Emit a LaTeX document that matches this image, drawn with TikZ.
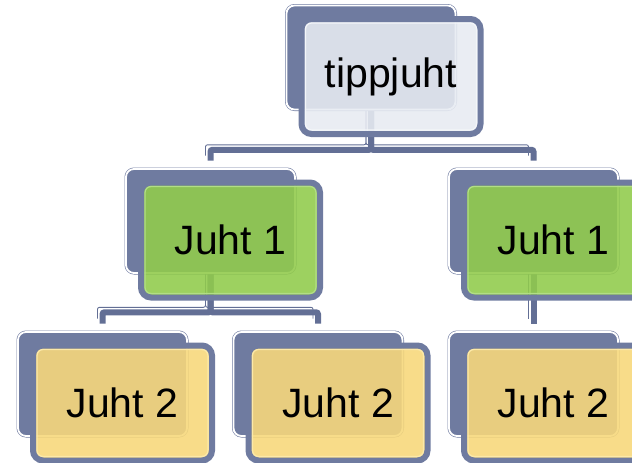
\documentclass[tikz,border=0pt]{standalone}
\usepackage{fontspec}
\setmainfont{Liberation Sans}
\usetikzlibrary{positioning, calc, backgrounds}
\definecolor{slateblue}{HTML}{6F7BA0}
\definecolor{linkblue}{HTML}{636F95}
\definecolor{topfill}{HTML}{E7EBF2}
\definecolor{topfillline}{HTML}{F4F6F9}
\definecolor{juhtgreen}{HTML}{91CB4C}
\definecolor{juhtgreenline}{HTML}{B2DE86}
\definecolor{juhtyellow}{HTML}{F7D87B}
\definecolor{juhtyellowline}{HTML}{FCE9A8}

\begin{document}
\begin{tikzpicture}[
    x=1pt, y=-1pt,
    backbox/.style={rectangle, draw=slateblue, double=white, double distance=1.8pt,
                    line width=0.6pt, fill=slateblue, rounded corners=8pt,
                    minimum width=169pt, minimum height=104pt},
    card/.style={rectangle, draw=slateblue, line width=6pt, fill=#1,
                 fill opacity=0.89, text opacity=1, rounded corners=10pt,
                 minimum width=179pt, minimum height=115pt, inner sep=0pt,
                 font=\fontsize{41}{48}\selectfont,
                 path picture={\draw[#1line, line width=1.3pt, rounded corners=6pt]
                   ([shift={(4pt,-4pt)}]path picture bounding box.north west) rectangle
                   ([shift={(-4pt,4pt)}]path picture bounding box.south east);}},
    link/.style={draw=linkblue, line width=6pt, rounded corners=2pt,
                 preaction={draw=linkblue, line width=0.9pt,
                            transform canvas={shift={(-5pt,5pt)}}}}
]
\useasboundingbox (0,0) rectangle (632,463);

% Level 0: tippjuht
\node[backbox] (top-b) at (371,57.5) {};
\node[card=topfill] (top) at ($(top-b)+(20,19)$) {tippjuht};

% Level 1: Juht 1
\node[backbox] (l1-b) at (210.5,221) {};
\node[card=juhtgreen] (l1) at ($(l1-b)+(20,19)$) {Juht 1};
\node[backbox] (r1-b) at (533.5,221) {};
\node[card=juhtgreen] (r1) at ($(r1-b)+(20,19)$) {Juht 1};

% Level 2: Juht 2
\node[backbox] (l2a-b) at (102.5,384) {};
\node[card=juhtyellow] (l2a) at ($(l2a-b)+(20,19)$) {Juht 2};
\node[backbox] (l2b-b) at (318,384) {};
\node[card=juhtyellow] (l2b) at ($(l2b-b)+(20,19)$) {Juht 2};
\node[backbox] (r2-b) at (533.5,384) {};
\node[card=juhtyellow] (r2) at ($(r2-b)+(20,19)$) {Juht 2};

% Connectors
\begin{scope}[on background layer]
\draw[link] (top-b.south) -- ++(0,40) -| ([yshift=8pt]l1-b.north);
\draw[link] (top-b.south) -- ++(0,40) -| ([yshift=8pt]r1-b.north);
\draw[link] (l1-b.south) -- ++(0,39) -| ([yshift=8pt]l2a-b.north);
\draw[link] (l1-b.south) -- ++(0,39) -| ([yshift=8pt]l2b-b.north);
\draw[link] (r1-b.south) -- ([yshift=8pt]r2-b.north);
\end{scope}

\end{tikzpicture}
\end{document}
